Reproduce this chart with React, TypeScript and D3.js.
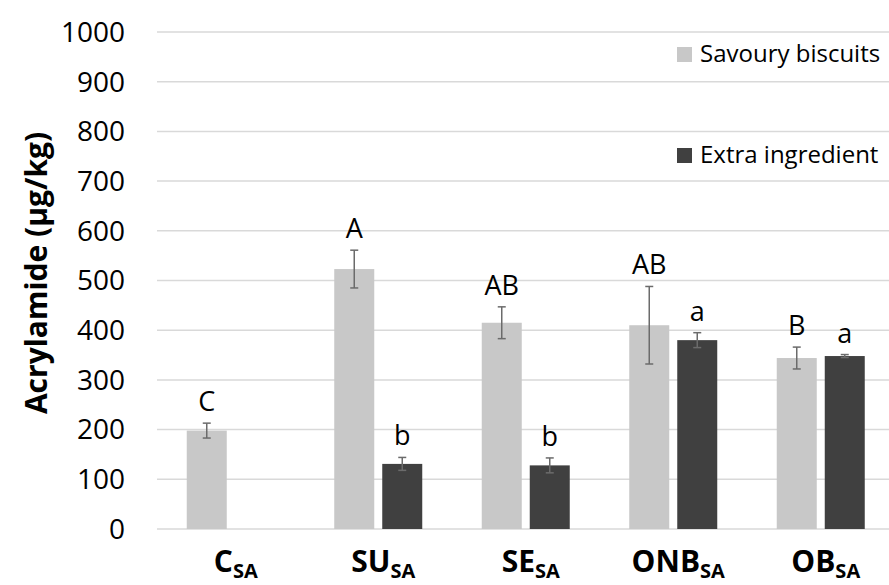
import React, { useEffect, useRef } from 'react';
import * as d3 from 'd3';

const width = 889;
const height = 585;
const margin = { top: 32, left: 157, bottom: 56 };

const categories = ['C', 'SU', 'SE', 'ONB', 'OB'];
const subscript = 'SA';
const seriesNames = ['Savoury biscuits', 'Extra ingredient'];
const seriesColors = ['#c8c8c8', '#404040'];
const savouryValues = [198, 523, 415, 410, 344];
const savouryErrors = [15, 38, 32, 78, 22];
const savouryLetters = ['C', 'A', 'AB', 'AB', 'B'];
const extraValues = [null, 131, 128, 380, 348];
const extraErrors = [null, 13, 15, 15, 3];
const extraLetters = ['', 'b', 'b', 'a', 'a'];
const yTicks = [0, 100, 200, 300, 400, 500, 600, 700, 800, 900, 1000];

const font = '"Open Sans", "DejaVu Sans", sans-serif';

function BarChart() {
  const ref = useRef<SVGSVGElement>(null);

  useEffect(() => {
    const svg = d3.select(ref.current);
    svg.selectAll('*').remove();

    const y = d3.scaleLinear().domain([0, 1000]).range([height - margin.bottom, margin.top]);
    // band scale runs a bit past the right edge, like the cropped original
    const x0 = d3.scaleBand().domain(categories).range([margin.left, margin.left + 5 * 147.5]);
    const x1 = d3.scaleBand().domain(seriesNames).range([0, 88]).paddingInner(1 / 6);

    const rows = [
      { values: savouryValues, errors: savouryErrors, letters: savouryLetters },
      { values: extraValues, errors: extraErrors, letters: extraLetters },
    ];

    // gridlines
    svg.append('g')
      .selectAll('line')
      .data(yTicks)
      .join('line')
        .attr('x1', margin.left)
        .attr('x2', width)
        .attr('y1', d => y(d))
        .attr('y2', d => y(d))
        .attr('stroke', '#d9d9d9')
        .attr('stroke-width', 1.5);

    // y tick labels
    svg.append('g')
      .selectAll('text')
      .data(yTicks)
      .join('text')
        .attr('x', 125)
        .attr('y', d => y(d))
        .attr('dy', '0.35em')
        .attr('text-anchor', 'end')
        .attr('font-family', font)
        .attr('font-size', 28)
        .attr('fill', '#000')
        .text(d => d);

    // y title
    svg.append('text')
      .attr('transform', 'translate(47,273) rotate(-90)')
      .attr('text-anchor', 'middle')
      .attr('font-family', font)
      .attr('font-weight', 'bold')
      .attr('font-size', 30)
      .text('Acrylamide (μg/kg)');

    rows.forEach((row, si) => {
      const g = svg.append('g');
      categories.forEach((cat, i) => {
        const v = row.values[i];
        if (v == null) return;
        const err = row.errors[i] || 0;
        const bx = (x0(cat) as number) + x0.bandwidth() / 2 - 44 + (x1(seriesNames[si]) as number);
        const bw = x1.bandwidth();
        const cx = bx + bw / 2;

        g.append('rect')
          .attr('x', bx)
          .attr('y', y(v))
          .attr('width', bw)
          .attr('height', y(0) - y(v))
          .attr('fill', seriesColors[si]);

        // error bar
        const top = y(v + err);
        const bot = y(v - err);
        g.append('line')
          .attr('x1', cx).attr('x2', cx)
          .attr('y1', top).attr('y2', bot)
          .attr('stroke', '#6b6b6b').attr('stroke-width', 1.5);
        [top, bot].forEach(yy => {
          g.append('line')
            .attr('x1', cx - 4).attr('x2', cx + 4)
            .attr('y1', yy).attr('y2', yy)
            .attr('stroke', '#6b6b6b').attr('stroke-width', 1.5);
        });

        g.append('text')
          .attr('x', cx)
          .attr('y', top - 12)
          .attr('text-anchor', 'middle')
          .attr('font-family', font)
          .attr('font-size', 27)
          .text(row.letters[i]);
      });
    });

    // category labels
    const cl = svg.append('g')
      .selectAll('text')
      .data(categories)
      .join('text')
        .attr('x', d => (x0(d) as number) + x0.bandwidth() / 2 + 5)
        .attr('y', 572)
        .attr('text-anchor', 'middle')
        .attr('font-family', font)
        .attr('font-weight', 'bold')
        .attr('font-size', 30);
    cl.append('tspan').text(d => d);
    cl.append('tspan')
      .attr('font-size', 20)
      .attr('dy', 6)
      .text(subscript);

    // legend
    const legend = svg.append('g')
      .selectAll('g')
      .data(seriesNames)
      .join('g')
        .attr('transform', (d, i) => `translate(677,${47 + i * 101})`);
    legend.append('rect')
      .attr('width', 15)
      .attr('height', 15)
      .attr('fill', (d, i) => seriesColors[i]);
    legend.append('text')
      .attr('x', 23)
      .attr('y', 15)
      .attr('font-family', font)
      .attr('font-size', 24)
      .text(d => d);
  }, []);

  return (
    <svg
      ref={ref}
      width={width}
      height={height}
      style={{ position: 'absolute', left: 0, top: 0, background: '#fff' }}
    />
  );
}

export default function App() {
  return <BarChart />;
}
